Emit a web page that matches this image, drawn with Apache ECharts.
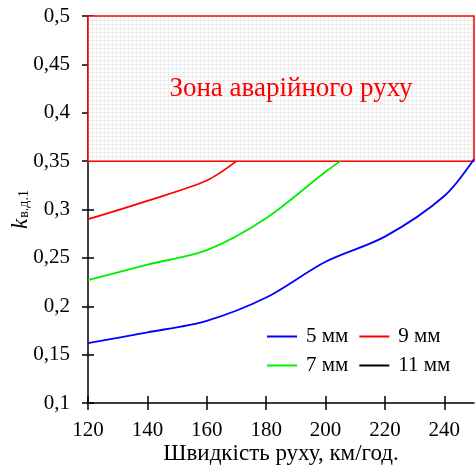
<!DOCTYPE html>
<html>
<head>
<meta charset="utf-8">
<script src="https://cdn.jsdelivr.net/npm/echarts@6/dist/echarts.min.js"></script>
<style>
  html, body { margin: 0; padding: 0; background: #fff; }
  #main { width: 475px; height: 469px; }
</style>
</head>
<body>
<div id="main"></div>
<script>
// speeds, km/h
const xTicks = [120, 140, 160, 180, 200, 220, 240];
const zoneRange = [0.35, 0.5];

// k values per tread depth (lines stop where they enter the zone)
const speeds5 = [120, 140, 160, 180, 200, 220, 240, 250];
const k5 = [0.162, 0.173, 0.185, 0.209, 0.246, 0.272, 0.314, 0.352];
const speeds7 = [120, 140, 160, 180, 200, 205];
const k7 = [0.227, 0.243, 0.258, 0.291, 0.339, 0.35];
const speeds9 = [120, 140, 160, 170];
const k9 = [0.290, 0.309, 0.330, 0.35];
const speeds11 = [];
const k11 = [];

const seriesNames = ['5 мм', '7 мм', '9 мм', '11 мм'];
const seriesColors = ['#0000ff', '#00ee00', '#ff0000', '#000000'];

const font = '"Liberation Serif", "DejaVu Serif", serif';

function pairs(xs, ys) {
  return xs.map((x, i) => [x, ys[i]]);
}

// small grid tile for the hatched zone
const tile = document.createElement('canvas');
tile.width = 4;
tile.height = 4;
const tctx = tile.getContext('2d');
tctx.fillStyle = '#ffffff';
tctx.fillRect(0, 0, 4, 4);
tctx.fillStyle = '#ececec';
tctx.fillRect(0, 0, 4, 1);
tctx.fillRect(0, 0, 1, 4);

const myChart = echarts.init(document.getElementById('main'));

const baseAxisLine = { lineStyle: { color: '#000', width: 1.5 } };
const fmtK = (v) => String(Math.round(v * 100) / 100).replace('.', ',');

const lineSeries = [
  [speeds5, k5],
  [speeds7, k7],
  [speeds9, k9],
  [speeds11, k11]
].map((d, i) => ({
  name: seriesNames[i],
  type: 'line',
  smooth: 0.3,
  symbol: 'none',
  color: seriesColors[i],
  lineStyle: { width: 1.8, color: seriesColors[i] },
  data: pairs(d[0], d[1]),
  z: 3
}));

const legendBase = {
  left: 262,
  itemWidth: 30,
  itemHeight: 2,
  itemGap: 11,
  icon: 'rect',
  orient: 'horizontal',
  textStyle: { fontFamily: font, fontSize: 21, color: '#000', padding: [0, 0, 0, 4] }
};

myChart.setOption({
  animation: false,
  backgroundColor: '#fff',
  grid: { left: 88, right: 1, top: 16, bottom: 66, containLabel: false, outerBoundsMode: 'none' },
  legend: [
    Object.assign({}, legendBase, { top: 321, data: [seriesNames[0], seriesNames[2]] }),
    Object.assign({}, legendBase, { top: 350, data: [seriesNames[1], seriesNames[3]] })
  ],
  xAxis: [
    {
      type: 'value',
      min: 120,
      max: 250,
      interval: 20,
      name: 'Швидкість руху, км/год.',
      nameLocation: 'middle',
      nameGap: 39,
      nameMoveOverlap: false,
      nameTextStyle: { fontFamily: font, fontSize: 23, color: '#000' },
      splitLine: { show: false },
      axisLine: baseAxisLine,
      axisTick: { customValues: xTicks, length: 7, lineStyle: { color: '#000', width: 1.5 } },
      axisLabel: { customValues: xTicks, fontFamily: font, fontSize: 21, color: '#000', margin: 17 }
    },
    {
      type: 'value',
      min: 120,
      max: 250,
      position: 'bottom',
      splitLine: { show: false },
      axisLine: { show: false },
      axisTick: { inside: true, customValues: xTicks, length: 7, lineStyle: { color: '#000', width: 1.5 } },
      axisLabel: { show: false }
    }
  ],
  yAxis: [
    {
      type: 'value',
      min: 0.1,
      max: 0.5,
      interval: 0.05,
      name: '{i|k}{s|в.д.1}',
      nameLocation: 'middle',
      nameRotate: 90,
      nameGap: 56,
      nameMoveOverlap: false,
      nameTextStyle: {
        rich: {
          i: { fontFamily: font, fontStyle: 'italic', fontSize: 23, color: '#000' },
          s: { fontFamily: font, fontSize: 14, color: '#000', padding: [8, 0, 0, 1] }
        }
      },
      splitLine: { show: false },
      axisLine: baseAxisLine,
      axisTick: { length: 6, lineStyle: { color: '#000', width: 1.5 } },
      axisLabel: { formatter: fmtK, fontFamily: font, fontSize: 21, color: '#000', margin: 18 }
    },
    {
      type: 'value',
      min: 0.1,
      max: 0.5,
      interval: 0.05,
      position: 'left',
      splitLine: { show: false },
      axisLine: { show: false },
      axisTick: { inside: true, length: 6, lineStyle: { color: '#000', width: 1.5 } },
      axisLabel: { show: false }
    }
  ],
  series: lineSeries.concat([
    {
      type: 'line',
      data: [],
      z: 4,
      markArea: {
        silent: true,
        itemStyle: {
          color: { image: tile, repeat: 'repeat' },
          borderColor: '#ff0000',
          borderWidth: 1.5
        },
        label: {
          show: true,
          position: 'inside',
          offset: [10, 0],
          formatter: 'Зона аварійного руху',
          fontFamily: font,
          fontSize: 27,
          color: '#ff0000'
        },
        data: [[{ xAxis: 120, yAxis: zoneRange[0] }, { xAxis: 250, yAxis: zoneRange[1] }]]
      }
    }
  ])
});
</script>
</body>
</html>
